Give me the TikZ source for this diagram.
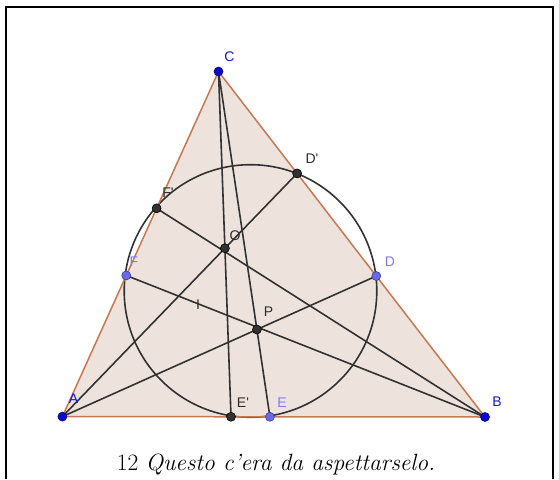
\documentclass[tikz,border=0pt]{standalone}
\usepackage{fontspec}
\newfontfamily\lblfont{Liberation Sans}
\usetikzlibrary{calc}
\definecolor{trifill}{RGB}{237,227,220}
\definecolor{triedge}{RGB}{200,120,80}
\definecolor{ptblue}{RGB}{10,10,205}
\definecolor{ptlight}{RGB}{105,105,235}
\definecolor{ptdark}{RGB}{50,50,50}
\definecolor{lbblue}{RGB}{20,20,220}
\definecolor{lblight}{RGB}{125,125,250}
\definecolor{lbdark}{RGB}{45,45,45}
\tikzset{
  cevian/.style={draw=ptdark, line width=1.6pt},
  edge/.style={draw=triedge, line width=1.5pt},
  ptA/.style={circle, fill=ptblue, draw=ptblue!60!black, line width=0.6pt, inner sep=0pt, minimum size=9pt},
  ptL/.style={circle, fill=ptlight, draw=ptlight!60!black, line width=0.6pt, inner sep=0pt, minimum size=9pt},
  ptD/.style={circle, fill=ptdark, draw=black, line width=0.6pt, inner sep=0pt, minimum size=9pt},
  lbl/.style={font=\lblfont\fontsize{14}{16}\selectfont, inner sep=0pt},
}
\begin{document}
\begin{tikzpicture}[x=1pt,y=-1pt]
\useasboundingbox (0,0) rectangle (559,479);
% frame
\draw[line width=2pt] (6,479) -- (6,7) -- (552.5,7) -- (552.5,479);
% vertices
\coordinate (A) at (62.4,416.6);
\coordinate (B) at (485,417);
\coordinate (C) at (218.5,71.5);
\coordinate (D) at ($(C)!0.592!(B)$);
\coordinate (Dp) at ($(C)!0.295!(B)$);
\coordinate (F) at ($(C)!0.591!(A)$);
\coordinate (Fp) at ($(C)!0.3965!(A)$);
\coordinate (E) at ($(A)!0.491!(B)$);
\coordinate (Ep) at ($(A)!0.399!(B)$);
\coordinate (P) at (intersection of A--D and C--E);
\coordinate (O) at (intersection of A--Dp and C--Ep);
\coordinate (M) at (250.5,291);
% triangle fill
\fill[trifill] (A) -- (B) -- (C) -- cycle;
% circle
\draw[ptdark, line width=1.6pt] (M) circle[radius=126.3];
% cevians
\draw[cevian] (A) -- (D);
\draw[cevian] (A) -- (Dp);
\draw[cevian] (B) -- (F);
\draw[cevian] (B) -- (Fp);
\draw[cevian] (C) -- (E);
\draw[cevian] (C) -- (Ep);
% triangle edges
\draw[edge] (A) -- (B) -- (C) -- cycle;
% points
\node[ptA] (pA) at (A) {};
\node[ptA] (pB) at (B) {};
\node[ptA] (pC) at (C) {};
\node[ptL] (pD) at (D) {};
\node[ptL] (pE) at (E) {};
\node[ptL] (pF) at (F) {};
\node[ptD] (pDp) at (Dp) {};
\node[ptD] (pEp) at (Ep) {};
\node[ptD] (pFp) at (Fp) {};
\node[ptD] (pO) at (O) {};
\node[ptD] (pP) at (P) {};
% labels
\node[lbl, text=lbblue] (lA) at (73.5,399) {A};
\node[lbl, text=lbblue] (lB) at (497,402) {B};
\node[lbl, text=lbblue] (lC) at (229.5,57) {C};
\node[lbl, text=lblight] (lD) at (390,262) {D};
\node[lbl, text=lblight] (lE) at (282,403) {E};
\node[lbl, text=lblight] (lF) at (134,262) {F};
\node[lbl, text=lbdark] (lDp) at (312,159) {D'};
\node[lbl, text=lbdark] (lEp) at (243,403) {E'};
\node[lbl, text=lbdark] (lFp) at (168,193) {F'};
\node[lbl, text=lbdark] (lO) at (235,236) {O};
\node[lbl, text=lbdark] (lP) at (268.5,312) {P};
\node[lbl, text=lbdark] (lI) at (198,305) {I};
% caption
\node[font=\fontsize{23.5}{27}\selectfont, inner sep=0pt] (cap) at (276,465) {12 \textit{Questo c'era da aspettarselo.}};
\end{tikzpicture}
\end{document}
